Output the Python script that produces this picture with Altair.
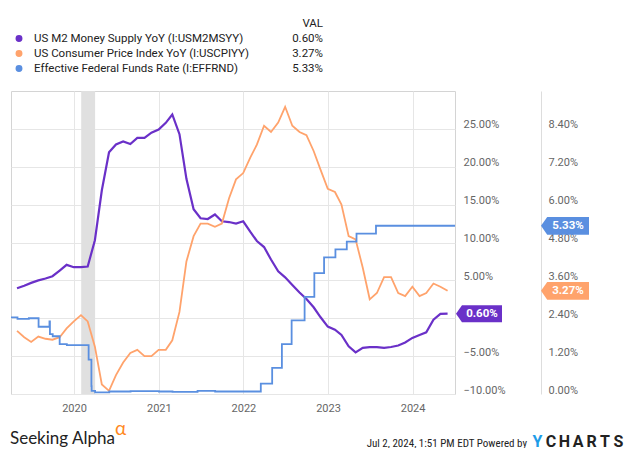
import altair as alt
import pandas as pd

# ---------------- data ----------------
month_ends = pd.date_range("2019-04-30", periods=62, freq=pd.offsets.MonthEnd())
dates = [d.strftime("%Y-%m-%d") for d in month_ends]

m2_yoy = [3.96, 4.3, 4.67, 5.0, 5.24, 5.55, 6.3, 7.05, 6.74,
          6.74, 6.83, 10.3, 16.9, 21.9, 22.95, 23.35, 23.0, 23.8, 23.8, 24.5, 24.9,
          25.8, 26.9, 24.3, 18.4, 14.4, 13.2, 13.1, 13.7, 12.8, 12.7, 12.5, 12.8,
          11.4, 10.2, 9.4, 7.75, 6.2, 5.4, 4.4, 3.4, 2.55, 1.45, 0.13, -1.1,
          -1.5, -2.2, -3.7, -4.5, -3.9, -3.8, -3.8, -3.9, -3.8, -3.6, -3.2, -2.6,
          -2.2, -1.85, -0.2, 0.57, 0.60]

cpi_yoy = [2.0, 1.8, 1.65, 1.82, 1.75, 1.72, 1.8, 2.08, 2.3,
           2.5, 2.3, 1.5, 0.3, 0.1, 0.6, 1.0, 1.3, 1.4, 1.2, 1.2, 1.4,
           1.4, 1.7, 2.6, 4.2, 5.0, 5.4, 5.4, 5.3, 5.4, 6.2, 6.8, 7.0,
           7.5, 7.9, 8.5, 8.3, 8.6, 9.1, 8.5, 8.3, 8.2, 7.7, 7.1, 6.5,
           6.4, 6.0, 5.0, 4.9, 4.0, 3.0, 3.2, 3.7, 3.7, 3.2, 3.1, 3.4,
           3.1, 3.2, 3.5, 3.4, 3.27]

ffr_dates = ["2019-04-04", "2019-05-02", "2019-06-20", "2019-08-01", "2019-09-17",
             "2019-09-19", "2019-10-01", "2019-10-31", "2019-12-01", "2020-03-04",
             "2020-03-16", "2020-03-17", "2020-04-01", "2020-06-01", "2020-09-01",
             "2021-01-01", "2021-03-01", "2021-06-17", "2021-09-01", "2022-03-17",
             "2022-05-05", "2022-06-16", "2022-07-28", "2022-09-22", "2022-11-03",
             "2022-12-15", "2023-02-02", "2023-03-23", "2023-05-04", "2023-07-27",
             "2024-07-02"]
ffr_vals = [2.43, 2.38, 2.40, 2.13, 2.30,
            1.90, 1.83, 1.58, 1.55, 1.09,
            0.25, 0.10, 0.05, 0.08, 0.09,
            0.08, 0.07, 0.10, 0.08, 0.33,
            0.83, 1.58, 2.33, 3.08, 3.83,
            4.33, 4.58, 4.83, 5.08, 5.33,
            5.33]

recession = [("2020-02-01", "2020-04-01")]

series_names = ["US M2 Money Supply YoY (I:USM2MSYY)",
                "US Consumer Price Index YoY (I:USCPIYY)",
                "Effective Federal Funds Rate (I:EFFRND)"]
last_vals = ["0.60%", "3.27%", "5.33%"]
colors = ["#6a30c8", "#ffa36c", "#5a8fe0"]

left_ticks = [-10, -5, 0, 5, 10, 15, 20, 25]
right_ticks = [0, 1.2, 2.4, 3.6, 4.8, 6.0, 7.2, 8.4]

# ---------------- frames ----------------
df_m2 = pd.DataFrame({"date": dates, "v": m2_yoy})
df_cpi = pd.DataFrame({"date": dates, "v": cpi_yoy})
df_ffr = pd.DataFrame({"date": ffr_dates, "v": ffr_vals})
df_rec = pd.DataFrame(recession, columns=["start", "end"])

W, H = 444, 303
FONT = "Roboto"
x_dom = [alt.DateTime(year=2019, month=4, date=4, utc=True),
         alt.DateTime(year=2024, month=7, date=2, utc=True)]
xscale = alt.Scale(type="utc", domain=x_dom)
xaxis = alt.Axis(values=[alt.DateTime(year=y, month=1, date=1, utc=True) for y in range(2020, 2025)],
                 format="%Y", title=None, grid=True, gridColor="#e6e6e6", ticks=False, tickSize=0,
                 domain=False, labelPadding=8, labelFontSize=11, labelColor="#666",
                 labelFont=FONT, zindex=0)
yl_scale = alt.Scale(domain=[-10, 30], nice=False, zero=False)
yr_scale = alt.Scale(domain=[0, 9.6], nice=False, zero=False)
yl_axis = alt.Axis(orient="right", values=left_ticks, title=None, grid=True, gridColor="#e6e6e6",
                   ticks=False, tickSize=0, domain=False, labelPadding=8, labelFontSize=11,
                   labelColor="#666", labelFont=FONT, labelBaseline="alphabetic", labelOffset=-1,
                   labelExpr="format(datum.value, '.2f') + '%'", zindex=0)
yr_axis = alt.Axis(orient="right", offset=86, values=right_ticks, title=None, grid=False,
                   ticks=False, tickSize=0, domain=True, domainColor="#dddddd", domainWidth=1,
                   labelPadding=7, labelFontSize=11, labelColor="#666", labelFont=FONT,
                   labelBaseline="alphabetic", labelOffset=-1,
                   labelExpr="format(datum.value, '.2f') + '%'", zindex=0)

BADGE = "M-1,0L-0.74,-0.37L1,-0.37L1,0.37L-0.74,0.37Z"

# ---------------- left group (M2) ----------------
rec = alt.Chart(df_rec).mark_rect(color="#e0e0e0").encode(
    x=alt.X("start:T", scale=xscale, axis=xaxis), x2="end:T")

m2_line = alt.Chart(df_m2).mark_line(color=colors[0], strokeWidth=2.2).encode(
    x=alt.X("date:T", scale=xscale, axis=xaxis),
    y=alt.Y("v:Q", scale=yl_scale, axis=yl_axis))

df_m2_last = df_m2.tail(1).assign(label=last_vals[0])
m2_badge = alt.Chart(df_m2_last).mark_point(shape=BADGE, filled=True, size=2116, opacity=1,
                                            color=colors[0], strokeWidth=0).encode(
    x=alt.value(W + 1 + 23), y=alt.Y("v:Q", scale=yl_scale, axis=yl_axis))
m2_badge_txt = alt.Chart(df_m2_last).mark_text(color="white", fontWeight="bold", fontSize=11.5,
                                               font=FONT, baseline="middle").encode(
    x=alt.value(W + 1 + 26), y=alt.Y("v:Q", scale=yl_scale, axis=yl_axis), text="label:N")

left = alt.layer(rec, m2_line, m2_badge, m2_badge_txt)

# ---------------- right group (CPI, FFR) ----------------
cpi_line = alt.Chart(df_cpi).mark_line(color=colors[1], strokeWidth=1.8).encode(
    x=alt.X("date:T", scale=xscale, axis=xaxis),
    y=alt.Y("v:Q", scale=yr_scale, axis=yr_axis))
ffr_line = alt.Chart(df_ffr).mark_line(color=colors[2], strokeWidth=1.8,
                                       interpolate="step-after").encode(
    x=alt.X("date:T", scale=xscale, axis=xaxis),
    y=alt.Y("v:Q", scale=yr_scale, axis=yr_axis))

df_r_last = pd.DataFrame({"v": [cpi_yoy[-1], ffr_vals[-1]], "label": last_vals[1:],
                          "col": colors[1:]})
r_badge = alt.Chart(df_r_last).mark_point(shape=BADGE, filled=True, size=2304, opacity=1,
                                          strokeWidth=0).encode(
    x=alt.value(W + 86 + 24), y=alt.Y("v:Q", scale=yr_scale, axis=yr_axis),
    color=alt.Color("col:N", scale=None))
r_badge_txt = alt.Chart(df_r_last).mark_text(color="white", fontWeight="bold", fontSize=11.5,
                                             font=FONT, baseline="middle").encode(
    x=alt.value(W + 86 + 27), y=alt.Y("v:Q", scale=yr_scale, axis=yr_axis), text="label:N")

right = alt.layer(cpi_line, ffr_line, r_badge, r_badge_txt)

# ---------------- legend & footer (fixed positions, no scales) ----------------
one = pd.DataFrame({"k": [0]})
leg_y = [-52.5, -37.5, -22.5]
deco_layers = []
for i in range(3):
    deco_layers.append(alt.Chart(one).mark_point(filled=True, size=48, opacity=1, color=colors[i],
                                                 strokeWidth=0).encode(
        x=alt.value(8), y=alt.value(leg_y[i])))
    deco_layers.append(alt.Chart(one).mark_text(text=series_names[i], align="left",
                                                baseline="middle", fontSize=11.5, font=FONT,
                                                color="#222").encode(
        x=alt.value(23), y=alt.value(leg_y[i])))
    deco_layers.append(alt.Chart(one).mark_text(text=last_vals[i], align="right",
                                                baseline="middle", fontSize=11.5, font=FONT,
                                                color="#222").encode(
        x=alt.value(312), y=alt.value(leg_y[i])))
deco_layers.append(alt.Chart(one).mark_text(text="VAL", align="right", baseline="middle",
                                            fontSize=11.5, font=FONT, color="#222").encode(
    x=alt.value(312), y=alt.value(-67.5)))
deco_layers.append(alt.Chart(one).mark_text(text="Seeking Alpha", align="left",
                                            baseline="alphabetic", fontSize=17, font="Lato",
                                            color="#222").encode(
    x=alt.value(-1), y=alt.value(353)))
deco_layers.append(alt.Chart(one).mark_text(text="α", align="left", baseline="alphabetic",
                                            fontSize=19, font="Lato", color="#ff8a1f").encode(
    x=alt.value(104), y=alt.value(344)))
deco_layers.append(alt.Chart(one).mark_text(text="Jul 2, 2024, 1:51 PM EDT Powered by",
                                            align="right", baseline="alphabetic", fontSize=11,
                                            font="Liberation Sans Narrow, Roboto Condensed, Roboto",
                                            color="#222").encode(
    x=alt.value(516), y=alt.value(355.5)))
yc_chars = list("YCHARTS")
yc_px = [526.5, 540, 553.5, 567, 580.5, 594, 607.5]
for j, (ch, px) in enumerate(zip(yc_chars, yc_px)):
    deco_layers.append(alt.Chart(one).mark_text(text=ch, align="center", baseline="alphabetic",
                                                fontSize=16, fontWeight="bold", font=FONT,
                                                color="#1d9ce8" if j == 0 else "#222").encode(
        x=alt.value(px), y=alt.value(356)))

deco = alt.layer(*deco_layers)

chart = alt.layer(left, right, deco).resolve_scale(
    y="independent"
).properties(
    width=W, height=H,
    padding={"left": 3, "top": 83, "right": 172, "bottom": 54},
    autosize=alt.AutoSizeParams(type="none"),
    background="white",
).configure_view(stroke="#d4d4d4", strokeWidth=1)

chart.save("out.html", embed_options={"renderer": "svg", "actions": False})
